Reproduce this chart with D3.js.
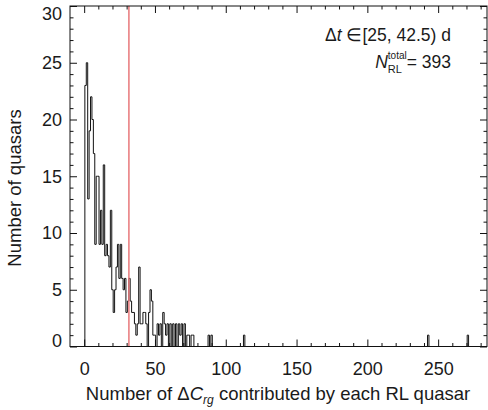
<!DOCTYPE html>
<html>
<head>
<meta charset="utf-8">
<script src="https://cdn.jsdelivr.net/npm/d3@7"></script>
<style>
  body { margin: 0; background: #fff; }
  text { font-family: "Liberation Sans", Arial, sans-serif; fill: #1a1a1a; }
</style>
</head>
<body>
<div id="chart"></div>
<script>
// number of quasars per bin, bins centred on 1, 2, 3 ... 90
const counts = [
  23, 25, 13, 19, 22, 20, 17, 9, 15, 15,
  9, 12, 9, 16, 8, 9, 8, 7, 12, 5,
  3, 5, 7, 9, 6, 9, 6, 5, 6, 3,
  4, 6, 4, 3, 3, 2, 1, 2, 7, 2,
  2, 3, 3, 2, 0, 3, 5, 4, 1, 1,
  0, 2, 1, 2, 0, 3, 2, 1, 2, 0,
  2, 0, 2, 0, 2, 0, 2, 1, 2, 0,
  2, 0, 1, 1, 0, 1, 1, 0, 0, 0,
  0, 0, 0, 0, 0, 0, 0, 1, 0, 1
]
// lone quasars far out in the tail
const tailBins = [113, 243, 271]
const tailCounts = [1, 1, 1]

const xTicks = [0, 50, 100, 150, 200, 250]
const yTicks = [0, 5, 10, 15, 20, 25, 30]
const cutValue = 31.6

const width = 488
const height = 410
const plotLeft = 70
const plotRight = 487
const plotTop = 6
const plotBottom = 346.5

// canvas
const svg = d3
  .select("#chart")
  .append("svg")
  .attr("width", width)
  .attr("height", height)

const xScale = d3.scaleLinear().domain([-10, 284.5]).range([plotLeft, plotRight])
const yScale = d3.scaleLinear().domain([0, 30]).range([plotBottom, plotTop])

// fill every bin up to the last tail bin
const lastBin = d3.max(tailBins)
const allCounts = d3.range(1, lastBin + 1).map(function(b) {
  if (b <= counts.length) return counts[b - 1]
  const k = tailBins.indexOf(b)
  return k >= 0 ? tailCounts[k] : 0
})

// step outline like a psym=10 histogram
const steps = [[0.5, 0]]
allCounts.forEach(function(v, i) {
  const b = i + 1
  steps.push([b - 0.5, v], [b + 0.5, v])
})
steps.push([lastBin + 0.5, 0])

const line = d3
  .line()
  .x(function(d) { return xScale(d[0]) })
  .y(function(d) { return yScale(d[1]) })

svg
  .append("path")
  .datum(steps)
  .attr("d", line)
  .attr("fill", "none")
  .attr("stroke", "#111")
  .attr("stroke-width", 1)

// red cut line
svg
  .append("line")
  .attr("x1", xScale(cutValue))
  .attr("x2", xScale(cutValue))
  .attr("y1", plotTop)
  .attr("y2", plotBottom)
  .attr("stroke", "#e8787a")
  .attr("stroke-width", 1.5)

// axes, ticks pointing inward
const xMinor = d3.range(0, 290, 10).filter(function(v) { return v % 50 !== 0 })
const yMinor = d3.range(0, 31, 1).filter(function(v) { return v % 5 !== 0 })

function addAxis(axis, tx, ty, cls) {
  const g = svg
    .append("g")
    .attr("class", cls)
    .attr("transform", "translate(" + tx + "," + ty + ")")
    .call(axis)
  g.select(".domain").remove()
  g.selectAll("line").attr("stroke", "#111")
  return g
}

addAxis(
  d3.axisBottom(xScale).tickValues(xTicks).tickSize(-7).tickPadding(16),
  0, plotBottom, "xAxis"
)
addAxis(d3.axisBottom(xScale).tickValues(xMinor).tickSize(-3.5).tickFormat(""), 0, plotBottom, "xMinor")
addAxis(d3.axisTop(xScale).tickValues(xTicks).tickSize(-7).tickFormat(""), 0, plotTop, "xTop")
addAxis(d3.axisTop(xScale).tickValues(xMinor).tickSize(-3.5).tickFormat(""), 0, plotTop, "xTopMinor")

const yAxis = addAxis(
  d3.axisLeft(yScale).tickValues(yTicks).tickSize(-7).tickPadding(8),
  plotLeft, 0, "yAxis"
)
addAxis(d3.axisLeft(yScale).tickValues(yMinor).tickSize(-3.5).tickFormat(""), plotLeft, 0, "yMinor")
addAxis(d3.axisRight(yScale).tickValues(yTicks).tickSize(-7).tickFormat(""), plotRight, 0, "yRight")
addAxis(d3.axisRight(yScale).tickValues(yMinor).tickSize(-3.5).tickFormat(""), plotRight, 0, "yRightMinor")

svg.selectAll(".xAxis text, .yAxis text")
  .attr("font-size", 18)
  .attr("font-family", "Liberation Sans, Arial, sans-serif")
  .attr("fill", "#1a1a1a")

// end labels are nudged inside the frame
yAxis.selectAll("text").attr("y", function(d) {
  if (d === 30) return 8
  if (d === 0) return -6
  return 0
})

// frame
svg
  .append("rect")
  .attr("x", plotLeft)
  .attr("y", plotTop)
  .attr("width", plotRight - plotLeft)
  .attr("height", plotBottom - plotTop)
  .attr("fill", "none")
  .attr("stroke", "#111")
  .attr("stroke-width", 1)

// axis titles
svg
  .append("text")
  .attr("transform", "translate(21,188)rotate(-90)")
  .attr("text-anchor", "middle")
  .attr("font-size", 18.5)
  .text("Number of quasars")

const xTitle = svg
  .append("text")
  .attr("x", 278)
  .attr("y", 400)
  .attr("text-anchor", "middle")
  .attr("font-size", 18.5)
xTitle.append("tspan").text("Number of \u0394")
xTitle.append("tspan").attr("font-style", "italic").text("C")
xTitle.append("tspan").attr("font-style", "italic").attr("font-size", 12).attr("dy", 4).text("rg")
xTitle.append("tspan").attr("dy", -4).text(" contributed by each RL quasar")

// annotation
const note1 = svg
  .append("text")
  .attr("x", 451)
  .attr("y", 41)
  .attr("text-anchor", "end")
  .attr("font-size", 17.5)
note1.append("tspan").text("\u0394")
note1.append("tspan").attr("font-style", "italic").text("t")
note1.append("tspan").text(" \u2208[25, 42.5) d")

const eqText = svg
  .append("text")
  .attr("x", 451)
  .attr("y", 68)
  .attr("text-anchor", "end")
  .attr("font-size", 17.5)
  .text("= 393")
const eqStart = 451 - eqText.node().getComputedTextLength()

const supText = svg
  .append("text")
  .attr("x", eqStart)
  .attr("y", 59)
  .attr("text-anchor", "end")
  .attr("font-size", 10)
  .text("total")
const subText = svg
  .append("text")
  .attr("x", eqStart - 2)
  .attr("y", 73)
  .attr("text-anchor", "end")
  .attr("font-size", 11)
  .text("RL")
const blockW = Math.max(
  supText.node().getComputedTextLength(),
  subText.node().getComputedTextLength() + 2
)
subText.attr("x", eqStart - blockW + subText.node().getComputedTextLength())

svg
  .append("text")
  .attr("x", eqStart - blockW)
  .attr("y", 68)
  .attr("text-anchor", "end")
  .attr("font-size", 17.5)
  .attr("font-style", "italic")
  .text("N")
</script>
</body>
</html>
